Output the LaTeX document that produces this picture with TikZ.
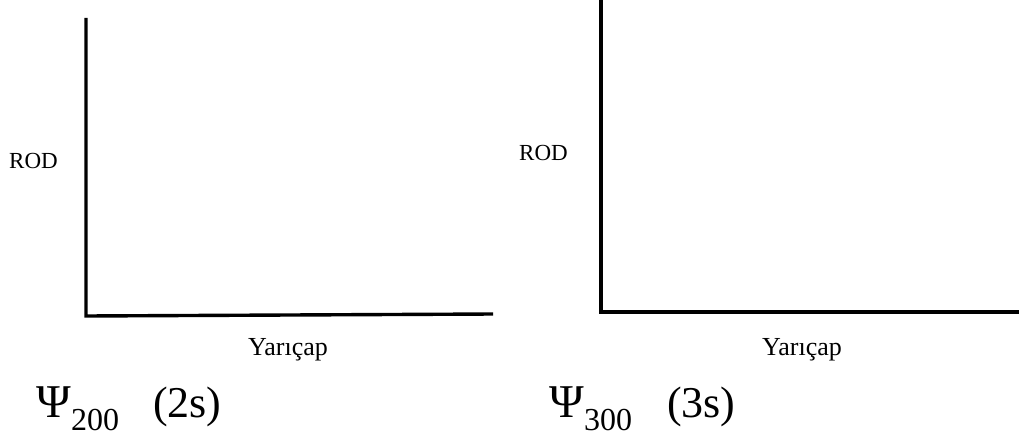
\documentclass[tikz,border=0pt]{standalone}
\usepackage{fontspec}
\setmainfont{Liberation Serif}
\begin{document}
\begin{tikzpicture}[x=1pt,y=-1pt,
  axis/.style={line width=3.4pt,line join=miter,black},
  lbl/.style={inner sep=0pt,anchor=base west,font=\fontsize{23}{26}\selectfont},
  xlbl/.style={inner sep=0pt,anchor=base west,font=\fontsize{26}{30}\selectfont},
  big/.style={inner sep=0pt,anchor=base west,font=\fontsize{44}{50}\selectfont},
  psi/.style={inner sep=0pt,anchor=base west,font=\fontsize{47}{52}\selectfont},
  sub/.style={inner sep=0pt,anchor=base west,font=\fontsize{32}{38}\selectfont}]
\useasboundingbox (0,0) rectangle (1019,436);
% left graph
\coordinate (la) at (86,18);
\coordinate (lo) at (86,316);
\coordinate (lb) at (493,314);
\draw[axis] (la) -- (lo) -- (lb);
\node[lbl] (rodA) at (9,168) {ROD};
\node[xlbl] (yarA) at (248,355) {Yarıçap};
\node[psi] (psiA) at (36,417) {Ψ};
\node[sub] (subA) at (71,430) {200};
\node[big] (sA) at (153,417) {(2s)};
% right graph
\coordinate (ra) at (601,0);
\coordinate (ro) at (601,312);
\coordinate (rb) at (1019,312);
\draw[axis] (ra) -- (ro) -- (rb);
\node[lbl] (rodB) at (519,160) {ROD};
\node[xlbl] (yarB) at (762,355) {Yarıçap};
\node[psi] (psiB) at (549,417) {Ψ};
\node[sub] (subB) at (584,430) {300};
\node[big] (sB) at (667,417) {(3s)};
\end{tikzpicture}
\end{document}
